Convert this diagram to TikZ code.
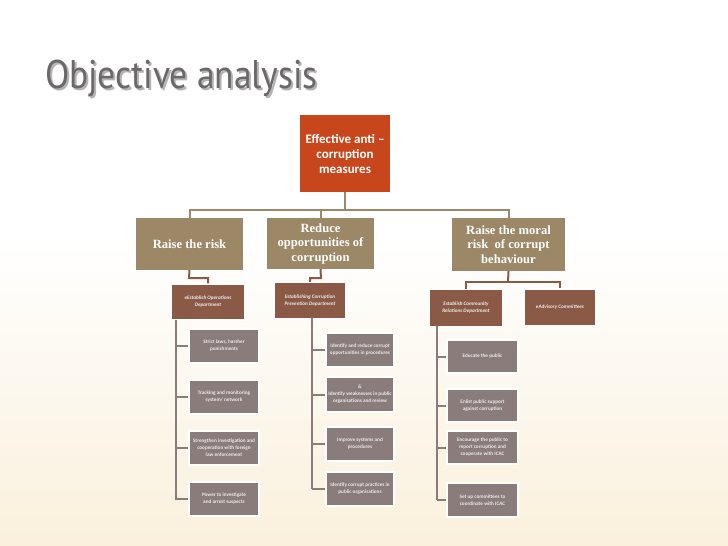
\documentclass[tikz,border=0pt]{standalone}
\usepackage{fontspec}
\setmainfont{Carlito}
\newfontfamily\titlefont{PT Sans}
\newfontfamily\serfont{Liberation Serif}
\usetikzlibrary{positioning}
\definecolor{topred}{HTML}{C7461C}
\definecolor{tan}{HTML}{9C8867}
\definecolor{brownbox}{HTML}{8B5A47}
\definecolor{greybox}{HTML}{8A7C7A}
\definecolor{cream}{HTML}{FAF0DC}
\definecolor{titlegrey}{HTML}{6A6868}
\definecolor{titleshadow}{HTML}{B4B2B2}
\tikzset{
  topbox/.style={fill=topred, text=white, font=\bfseries\fontsize{13}{15}\selectfont, align=center, inner sep=0pt},
  midbox/.style={fill=tan, text=white, font=\serfont\bfseries\fontsize{12.6}{14.5}\selectfont, align=center, inner sep=0pt},
  deptbox/.style={fill=brownbox, draw=white, line width=1.2pt, text=white!85!gray, font=\fontsize{5.2}{7}\selectfont\itshape\bfseries, align=center, inner sep=0pt},
  leafbox/.style={fill=greybox, draw=white, line width=1.2pt, text=white!85!gray, font=\fontsize{5.2}{7}\selectfont\bfseries, align=center, inner sep=0pt},
  tanline/.style={draw=tan, line width=2pt},
  brownline/.style={draw=brownbox, line width=2pt},
  greyline/.style={draw=greybox, line width=2pt},
}
\newcommand{\titletext}{\scalebox{0.885}[1]{Objective analysis}}
\begin{document}
\begin{tikzpicture}[x=1pt,y=-1pt]
\useasboundingbox (0,0) rectangle (728,546);
\fill[white] (0,0) rectangle (728,240);
\shade[top color=white, bottom color=cream] (0,240) rectangle (728,546);
% title (with its shadow, in one node)
\node[anchor=base west, font=\titlefont\fontsize{40}{44}\selectfont, inner sep=0pt] (title) at (45,88)
  {\rlap{\hspace{2pt}\raisebox{-2.5pt}{\color{titleshadow}\titletext}}\color{titlegrey}\titletext};
% top box
\node[topbox, minimum width=90pt, minimum height=77pt] (top) at (345,153.5) {Effective anti –\\corruption\\measures};
% level 2
\node[midbox, minimum width=107pt, minimum height=52pt] (m1) at (189.5,244) {Raise the risk};
\node[midbox, minimum width=107pt, minimum height=51pt] (m2) at (320.5,243.5) {Reduce\\opportunities of\\corruption};
\node[midbox, minimum width=113pt, minimum height=53pt] (m3) at (508.5,244.5) {Raise the moral\\risk\ \ of corrupt\\behaviour};
\coordinate (hub) at (345,210);
\draw[tanline] (top.south) -- (hub);
\draw[tanline] (m1.north) |- (hub) -| (m3.north);
\draw[tanline] (m2.north) -- (m2.north |- hub);
% level 3
\node[deptbox, minimum width=74pt, minimum height=36pt] (d1) at (208,302) {eEstablish Operations\\Department};
\node[deptbox, minimum width=72pt, minimum height=36pt] (d2) at (310,300.5) {Establishing Corruption\\Prevention Department};
\node[deptbox, minimum width=73pt, minimum height=37pt] (d3) at (466,308) {Establish Community\\Relations Department};
\node[deptbox, minimum width=71pt, minimum height=37pt] (d4) at (560,307.5) {eAdvisory Committees};
\coordinate (k1) at (189,278);
\coordinate (k2) at (321,278);
\coordinate (k3) at (508,282);
\draw[brownline] (m1.south) -- (k1) -| (d1.north);
\draw[brownline] (m2.south) -- (k2) -| (d2.north);
\draw[brownline] (m3.south) -- (k3);
\draw[brownline] (d3.north) |- (k3) -| (d4.north);
% level 4 left
\node[leafbox, minimum width=70pt, minimum height=34pt] (a1) at (224,346) {Strict laws, harsher\\punishments};
\node[leafbox, minimum width=70pt, minimum height=34pt] (a2) at (224,397) {Tracking and monitoring\\system/ network};
\node[leafbox, minimum width=70pt, minimum height=34pt] (a3) at (224,448) {Strengthen investigation and\\cooperation with foreign\\law enforcement};
\node[leafbox, minimum width=70pt, minimum height=34pt] (a4) at (224,499) {Power to investigate\\and arrest suspects};
\coordinate (atop) at (176,320);
\coordinate (aend) at (176,500);
\draw[greyline] (atop) -- (aend);
\foreach \b in {a1,a2,a3,a4} \draw[greyline] (atop |- \b.west) -- (\b.west);
% level 4 middle
\node[leafbox, minimum width=68pt, minimum height=34pt] (b1) at (360,350) {Identify and reduce corrupt\\opportunities in procedures};
\node[leafbox, minimum width=68pt, minimum height=35pt] (b2) at (360,394.5) {\&\\Identify weaknesses in public\\organisations and review};
\node[leafbox, minimum width=68pt, minimum height=34pt] (b3) at (360,444) {Improve systems and\\procedures};
\node[leafbox, minimum width=68pt, minimum height=34pt] (b4) at (360,489) {Identify corrupt practices in\\public organisations};
\coordinate (btop) at (312,318);
\coordinate (bend) at (312,489);
\draw[greyline] (btop) -- (bend);
\foreach \b in {b1,b2,b3,b4} \draw[greyline] (btop |- \b.west) -- (\b.west);
% level 4 right
\node[leafbox, minimum width=71pt, minimum height=33pt] (c1) at (482.5,356.5) {Educate the public};
\node[leafbox, minimum width=71pt, minimum height=33pt] (c2) at (482.5,405.5) {Enlist public support\\against corruption};
\node[leafbox, minimum width=71pt, minimum height=33pt] (c3) at (482.5,447.5) {Encourage the public to\\report corruption and\\cooperate with ICAC};
\node[leafbox, minimum width=71pt, minimum height=34pt] (c4) at (482.5,500) {Set up committees to\\coordinate with ICAC};
\coordinate (ctop) at (437,326);
\coordinate (cend) at (437,500);
\draw[greyline] (ctop) -- (cend);
\foreach \b in {c1,c2,c3,c4} \draw[greyline] (ctop |- \b.west) -- (\b.west);
\end{tikzpicture}
\end{document}
